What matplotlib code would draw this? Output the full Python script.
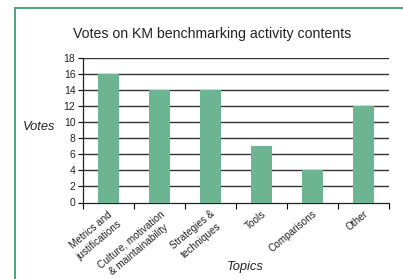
import matplotlib
matplotlib.use("Agg")
import matplotlib.pyplot as plt
from matplotlib.patches import Rectangle

categories = ["Metrics and\njustifications", "Culture, motivation\n& maintainability",
              "Strategies &\ntechniques", "Tools", "Comparisons", "Other"]
votes = [16, 14, 14, 7, 4, 12]
yticks = [0, 2, 4, 6, 8, 10, 12, 14, 16, 18]

plt.rcParams['font.family'] = ['Liberation Sans', 'DejaVu Sans']

W, H = 403, 279
fig = plt.figure(figsize=(W / 100, H / 100), dpi=100)

# green frame
fig.patches.append(Rectangle((15 / W, -0.1), 1.2, 1 - 8 / H + 0.1, transform=fig.transFigure,
                             fill=False, edgecolor="#3a9f6c", linewidth=1.3, zorder=0))

ax = fig.add_axes([83 / W, 1 - 202.5 / H, (389 - 83) / W, (202.5 - 58) / H])
x = list(range(len(categories)))
ax.bar(x, votes, width=0.4, color="#6db592", zorder=3)
ax.set_xlim(-0.5, len(categories) - 0.5)
ax.set_ylim(0, 18)
ax.set_yticks(yticks)
ax.set_yticklabels([str(v) for v in yticks], fontsize=7.5, color="#222222")
for v in yticks[1:]:
    ax.axhline(v, color="#333333", linewidth=1.0, zorder=1)

ax.set_xticks([i - 0.5 for i in range(len(categories) + 1)])
ax.set_xticklabels([])
ax.set_xticks(x, minor=True)
ax.set_xticklabels(categories, minor=True, rotation=40, ha="right", va="top",
                   rotation_mode="anchor", fontsize=7.2, color="#222222",
                   multialignment="center", linespacing=1.4)
ax.tick_params(axis="x", which="minor", length=0, pad=4.5)
ax.tick_params(axis="x", which="major", length=4, width=0.8, direction="out")
ax.tick_params(axis="y", length=3.5, width=0.8, direction="out", pad=2)

for s in ["top", "right"]:
    ax.spines[s].set_visible(False)
ax.spines["left"].set_linewidth(0.9)
ax.spines["bottom"].set_linewidth(0.9)
ax.spines["left"].set_color("#222222")
ax.spines["bottom"].set_color("#222222")

fig.text(212 / W, 1 - 34 / H, "Votes on KM benchmarking activity contents", ha="center", va="center",
         fontsize=10.2, color="#222222")
fig.text(39 / W, 1 - 127 / H, "Votes", ha="center", va="center", fontsize=9.3, style="italic",
         color="#222222")
fig.text(245 / W, 1 - 267 / H, "Topics", ha="center", va="center", fontsize=9.3, style="italic",
         color="#222222")

fig.savefig("out.png", dpi=100)
